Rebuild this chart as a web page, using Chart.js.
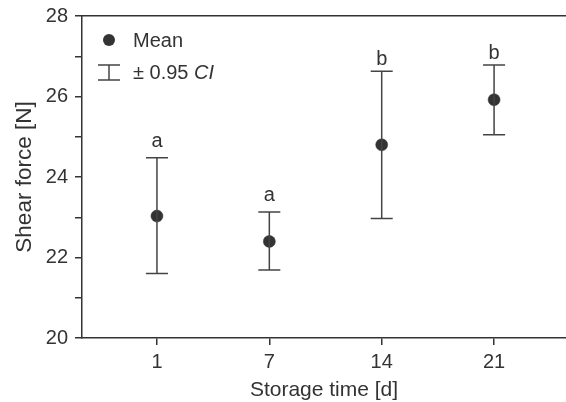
<!DOCTYPE html>
<html>
<head>
<meta charset="utf-8">
<script src="https://cdn.jsdelivr.net/npm/chart.js@4"></script>
<style>
  html, body { margin: 0; padding: 0; background: #fff; }
  #wrap { width: 566px; height: 402px; }
</style>
</head>
<body>
<div id="wrap"><canvas id="chart"></canvas></div>
<script>
// Data
const storageDays = ['1', '7', '14', '21'];
const meanForce = [23.03, 22.40, 24.80, 25.92];
const ciLower = [21.60, 21.69, 22.97, 25.05];
const ciUpper = [24.48, 23.13, 26.63, 26.78];
const groupLetters = ['a', 'a', 'b', 'b'];
const yTicks = [20, 22, 24, 26, 28];

const ink = '#333333';
const fontFamily = '"Liberation Sans", Arial, sans-serif';

// error bars, group letters and the legend box
const errorBarPlugin = {
    id: 'errorBars',
    afterDatasetsDraw(chart) {
        const ctx = chart.ctx;
        const xs = chart.scales.x;
        const ys = chart.scales.y;
        const cap = 11;

        ctx.save();
        ctx.strokeStyle = '#444';
        ctx.lineWidth = 1.5;
        meanForce.forEach((m, i) => {
            const x = xs.getPixelForValue(i + 1);
            const yl = ys.getPixelForValue(ciLower[i]);
            const yu = ys.getPixelForValue(ciUpper[i]);
            ctx.beginPath();
            ctx.moveTo(x, yl); ctx.lineTo(x, yu);
            ctx.moveTo(x - cap, yl); ctx.lineTo(x + cap, yl);
            ctx.moveTo(x - cap, yu); ctx.lineTo(x + cap, yu);
            ctx.stroke();

            // 'a' sits a little higher than 'b' in the original
            const gap = groupLetters[i] === 'a' ? 11 : 6.5;
            ctx.fillStyle = ink;
            ctx.font = '20px ' + fontFamily;
            ctx.textAlign = 'center';
            ctx.textBaseline = 'alphabetic';
            ctx.fillText(groupLetters[i], x, yu - gap);
        });

        // legend
        const lx = chart.chartArea.left + 27;
        const ly = chart.chartArea.top + 24;
        ctx.fillStyle = ink;
        ctx.beginPath();
        ctx.arc(lx, ly, 6, 0, Math.PI * 2);
        ctx.fill();

        ctx.font = '20px ' + fontFamily;
        ctx.textAlign = 'left';
        ctx.textBaseline = 'middle';
        ctx.fillText('Mean', lx + 24, ly + 1);

        const ey = ly + 33;
        ctx.beginPath();
        ctx.moveTo(lx, ey - 8); ctx.lineTo(lx, ey + 7);
        ctx.moveTo(lx - 11, ey - 8); ctx.lineTo(lx + 11, ey - 8);
        ctx.moveTo(lx - 11, ey + 7); ctx.lineTo(lx + 11, ey + 7);
        ctx.stroke();

        const t1 = '\u00b1 0.95 ';
        ctx.fillText(t1, lx + 24, ey);
        const w1 = ctx.measureText(t1).width;
        ctx.font = 'italic 20px ' + fontFamily;
        ctx.fillText('CI', lx + 24 + w1, ey);
        ctx.restore();
    }
};

new Chart(document.getElementById('chart'), {
    type: 'scatter',
    data: {
        datasets: [{
            label: 'Mean',
            data: meanForce.map((v, i) => ({ x: i + 1, y: v })),
            backgroundColor: ink,
            borderColor: ink,
            pointRadius: 6,
            pointBorderWidth: 0.5,
            pointHoverRadius: 6
        }]
    },
    options: {
        responsive: true,
        maintainAspectRatio: false,
        animation: false,
        layout: { autoPadding: false, padding: { left: 0, right: 0, top: 16, bottom: 0 } },
        plugins: {
            legend: { display: false },
            tooltip: { enabled: false }
        },
        scales: {
            x: {
                type: 'linear',
                min: 0.333,
                max: 4.64,
                afterBuildTicks: scale => {
                    scale.ticks = storageDays.map((d, i) => ({ value: i + 1 }));
                },
                afterFit: scale => { scale.height = 64; },
                ticks: {
                    color: ink,
                    font: { family: fontFamily, size: 20 },
                    padding: 5,
                    maxRotation: 0,
                    callback: v => storageDays[v - 1]
                },
                grid: { drawOnChartArea: false, drawTicks: true, tickLength: 7, color: ink, lineWidth: 1.5 },
                border: { display: true, color: ink, width: 1.5 },
                title: {
                    display: true,
                    text: 'Storage time [d]',
                    color: ink,
                    font: { family: fontFamily, size: 21 },
                    padding: { top: 0, bottom: -1 }
                }
            },
            xTop: {
                type: 'linear',
                position: 'top',
                min: 0.333,
                max: 4.64,
                afterFit: scale => { scale.height = 0; },
                ticks: { display: false },
                grid: { display: false, drawTicks: false },
                border: { display: true, color: ink, width: 1.5 }
            },
            y: {
                min: 20,
                max: 28,
                afterBuildTicks: scale => {
                    const t = [];
                    for (let v = 20; v <= 28; v++) t.push({ value: v });
                    scale.ticks = t;
                },
                afterFit: scale => {
                    scale.width = 82;
                    scale.paddingTop = 0;
                    scale.paddingBottom = 0;
                },
                ticks: {
                    color: ink,
                    font: { family: fontFamily, size: 20 },
                    padding: 7,
                    callback: v => yTicks.includes(v) ? String(v) : ''
                },
                grid: { drawOnChartArea: false, drawTicks: true, tickLength: 7, color: ink, lineWidth: 1.5 },
                border: { display: true, color: ink, width: 1.5 },
                title: {
                    display: true,
                    text: 'Shear force [N]',
                    color: ink,
                    font: { family: fontFamily, size: 22.5 },
                    padding: { top: 11, bottom: 0 }
                }
            }
        }
    },
    plugins: [errorBarPlugin]
});
</script>
</body>
</html>
